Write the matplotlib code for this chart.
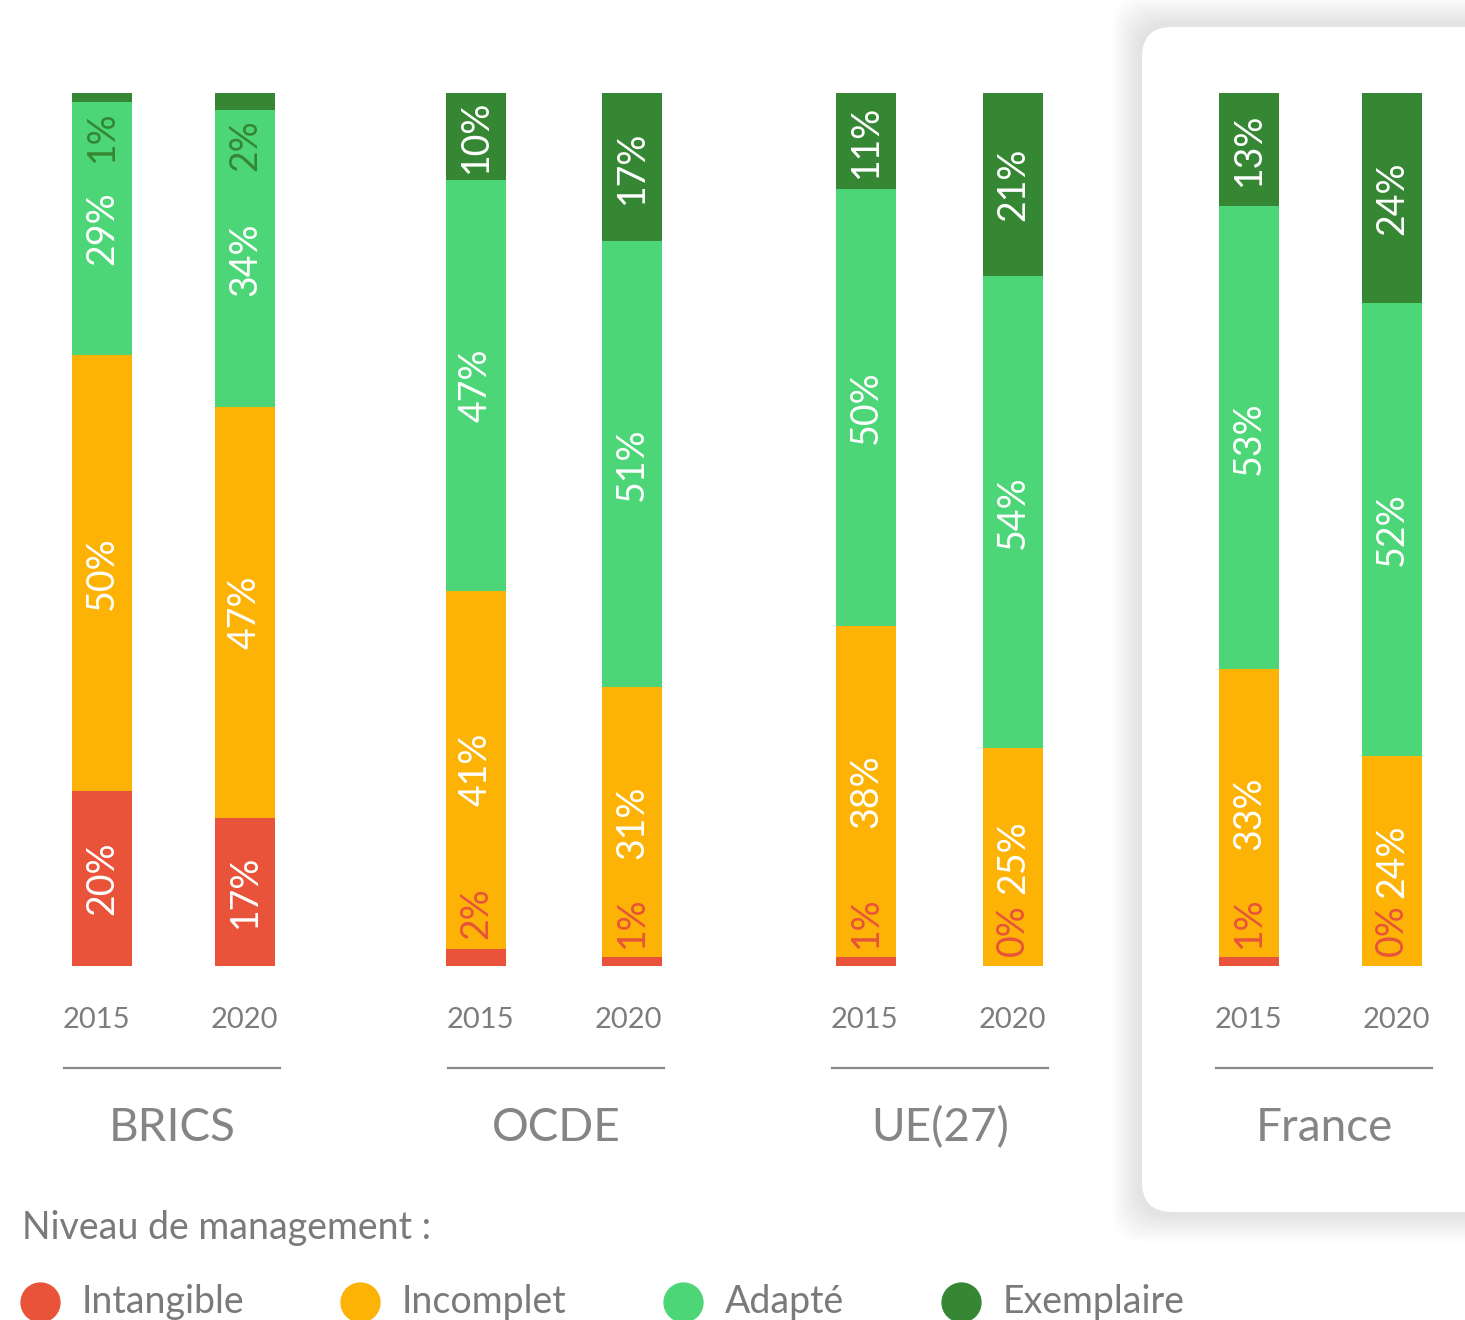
import numpy as np
import matplotlib.pyplot as plt
from matplotlib.patches import FancyBboxPatch
from matplotlib.lines import Line2D

plt.rcParams["font.family"] = ["Lato", "DejaVu Sans"]

# ------------------------------------------------------------
# Data
# ------------------------------------------------------------
groups = ["BRICS", "OCDE", "UE(27)", "France"]
years = ["2015", "2020"]
levels = ["Intangible", "Incomplet", "Adapté", "Exemplaire"]
colors = ["#E8533A", "#FDB305", "#4CD677", "#368733"]

# one row per bar: BRICS 2015, BRICS 2020, OCDE 2015, ...
intangible = [20, 17, 2, 1, 1, 0, 1, 0]
incomplet = [50, 47, 41, 31, 38, 25, 33, 24]
adapte = [29, 34, 47, 51, 50, 54, 53, 52]
exemplaire = [1, 2, 10, 17, 11, 21, 13, 24]

series = [intangible, incomplet, adapte, exemplaire]

W, H = 1465, 1320
fig = plt.figure(figsize=(W / 100, H / 100), dpi=100)
fig.patch.set_facecolor("white")

# ------------------------------------------------------------
# France card with soft shadow
# ------------------------------------------------------------
cx0, cy0, cw, ch = 11.42, 1.08, 3.6, 11.85
for k in range(14):
    g = 0.02 * (14 - k)
    sh = FancyBboxPatch((cx0 - g - 0.02, cy0 - g - 0.02), cw + 2 * g, ch + 2 * g + 0.05,
                        boxstyle="round,pad=0,rounding_size=0.32",
                        transform=fig.dpi_scale_trans, facecolor="black",
                        edgecolor="none", alpha=0.007, zorder=0)
    fig.add_artist(sh)
card = FancyBboxPatch((cx0, cy0), cw, ch, boxstyle="round,pad=0,rounding_size=0.3",
                      transform=fig.dpi_scale_trans, facecolor="white",
                      edgecolor="none", zorder=0.5)
fig.add_artist(card)

# ------------------------------------------------------------
# Bars (x axis in pixel units)
# ------------------------------------------------------------
ax = fig.add_axes([0, (H - 966) / H, 1, 873 / H])
ax.set_zorder(1)
ax.patch.set_visible(False)

group_x = [173.5, 554, 939.5, 1320.5]   # layout: bar pair centres
half_gap = [71.5, 78, 73.5, 71.5]
label_x = 172 + 384 * np.arange(len(groups))  # layout: group label centres
width = 60
xpos = np.ravel([[c - h, c + h] for c, h in zip(group_x, half_gap)])

bottom = np.zeros(len(xpos))
for vals, col in zip(series, colors):
    ax.bar(xpos, vals, width=width, bottom=bottom, color=col, linewidth=0)
    bottom += np.array(vals)

# percentage labels
fs = 27
for i, x in enumerate(xpos):
    base = 0
    for j, (vals, col) in enumerate(zip(series, colors)):
        v = vals[i]
        txt = f"{v}%"
        if v >= 5:
            ax.text(x, base + v / 2, txt, rotation=90, ha="center", va="center",
                    color="white", fontsize=fs)
        elif j == 0:
            ax.text(x, base + v + 1.1, txt, rotation=90, ha="center", va="bottom",
                    color=col, fontsize=fs)
        else:
            ax.text(x, base - 1.0, txt, rotation=90, ha="center", va="top",
                    color=col, fontsize=fs)
        base += v

ax.set_xlim(0, W)
ax.set_ylim(0, 100)
ax.axis("off")

# year labels, separators, group names
tr = ax.get_xaxis_transform()
for i, c in enumerate(label_x):
    for k, yr in enumerate(years):
        ax.text(c - 76 + 148 * k, -(1020 - 966) / 873, yr, ha="center", va="center",
                color="#7d7d7d", fontsize=21, transform=tr, clip_on=False)
    ax.plot([c - 108, c + 108], [-(1068 - 966) / 873] * 2,
            color="#8a8a8a", lw=1.6, transform=tr, clip_on=False)
    ax.text(c, -(1128 - 966) / 873, groups[i], ha="center", va="center",
            color="#858585", fontsize=33, transform=tr, clip_on=False)

# ------------------------------------------------------------
# Legend
# ------------------------------------------------------------
fig.text(22 / W, 1 - 1228 / H, "Niveau de management :", ha="left", va="center",
         color="#7a7a7a", fontsize=27)
leg_x = [40, 360, 683, 961]
for lx, lab, col in zip(leg_x, levels, colors):
    fig.add_artist(Line2D([lx / W], [1 - 1302 / H], marker="o", markersize=28,
                          color=col, lw=0, transform=fig.transFigure))
    fig.text((lx + 42) / W, 1 - 1302 / H, lab, ha="left", va="center",
             color="#7a7a7a", fontsize=27)

fig.savefig("out.png", dpi=100)
